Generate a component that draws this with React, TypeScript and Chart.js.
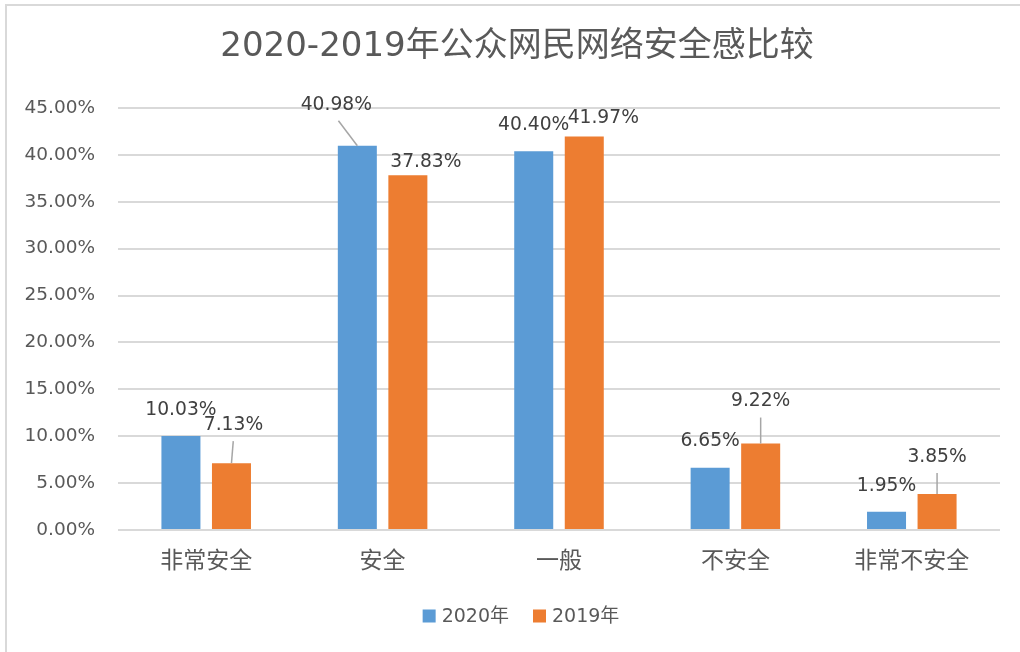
import React, { useEffect, useRef } from "react";
import { Chart, registerables } from "chart.js";

Chart.register(...registerables);

const chartTitle = "2020-2019年公众网民网络安全感比较";
const categories = ["非常安全", "安全", "一般", "不安全", "非常不安全"];
const seriesNames = ["2020年", "2019年"];
const values2020 = [10.03, 40.98, 40.4, 6.65, 1.95];
const values2019 = [7.13, 37.83, 41.97, 9.22, 3.85];
const yMin = 0;
const yMax = 45;
const yStep = 5;

// label placement tweaks (px) relative to the default "above the bar" position
const labelShift2020 = [[0, 0], [-21, -15], [0, 0], [0, 0], [0, 0]];
const labelShift2019 = [[2, -12], [18, 13], [19, 8], [0, -16], [0, -11]];
const leader2020 = [false, true, false, false, false];
const leader2019 = [true, false, false, true, true];

const BLUE = "#5B9BD5";
const ORANGE = "#ED7D31";
const TEXT = "#595959";
const LABEL = "#404040";
const LATIN = '"DejaVu Sans", "Noto Sans CJK SC", sans-serif';
const CJK = '"Noto Sans CJK SC", "DejaVu Sans", sans-serif';

const fmt = (v: number) => v.toFixed(2) + "%";

const decorPlugin = {
  id: "decor",
  afterDatasetsDraw(chart: any) {
    const ctx = chart.ctx;
    const shifts = [labelShift2020, labelShift2019];
    const leaders = [leader2020, leader2019];
    ctx.save();
    chart.data.datasets.forEach((ds: any, di: number) => {
      const meta = chart.getDatasetMeta(di);
      meta.data.forEach((el: any, i: number) => {
        const [dx, dy] = shifts[di][i];
        const lx = el.x + dx;
        const ly = el.y - 26 + dy;
        if (leaders[di][i]) {
          ctx.strokeStyle = "#A6A6A6";
          ctx.lineWidth = 1.5;
          ctx.beginPath();
          ctx.moveTo(lx + (el.x - lx) * 0.1, ly + 16);
          ctx.lineTo(el.x, el.y);
          ctx.stroke();
        }
        ctx.fillStyle = LABEL;
        ctx.font = "18.7px " + LATIN;
        ctx.textAlign = "center";
        ctx.textBaseline = "middle";
        ctx.fillText(fmt(ds.data[i]), lx, ly);
      });
    });
    ctx.restore();
  },
  afterDraw(chart: any) {
    const ctx = chart.ctx;
    ctx.save();
    // title
    ctx.fillStyle = TEXT;
    ctx.font = "34px " + LATIN;
    ctx.textAlign = "center";
    ctx.textBaseline = "middle";
    ctx.fillText(chartTitle, 517, 47);
    // legend
    ctx.font = "19px " + LATIN;
    const box = 13;
    const gap = 6;
    const itemGap = 24;
    const colors = [BLUE, ORANGE];
    const widths = seriesNames.map((n) => box + gap + ctx.measureText(n).width);
    const total = widths.reduce((a, b) => a + b, 0) + itemGap * (widths.length - 1);
    let x = 521 - total / 2;
    const cy = 616;
    ctx.textAlign = "left";
    seriesNames.forEach((n, i) => {
      ctx.fillStyle = colors[i];
      ctx.fillRect(x, cy - box / 2, box, box);
      ctx.fillStyle = TEXT;
      ctx.fillText(n, x + box + gap, cy + 1);
      x += widths[i] + itemGap;
    });
    ctx.restore();
  },
};

export default function App() {
  const ref = useRef<HTMLCanvasElement | null>(null);

  useEffect(() => {
    if (!ref.current) return;
    const chart = new Chart(ref.current, {
      type: "bar",
      data: {
        labels: categories,
        datasets: [
          {
            label: seriesNames[0],
            data: values2020,
            backgroundColor: BLUE,
            barPercentage: 0.772,
            categoryPercentage: 0.573,
          },
          {
            label: seriesNames[1],
            data: values2019,
            backgroundColor: ORANGE,
            barPercentage: 0.772,
            categoryPercentage: 0.573,
          },
        ],
      },
      options: {
        responsive: false,
        animation: false,
        devicePixelRatio: 1,
        layout: { padding: { top: 108, right: 20, bottom: 62, left: 0 } },
        plugins: {
          legend: { display: false },
          title: { display: false },
          tooltip: { enabled: false },
        },
        scales: {
          x: {
            grid: { display: false },
            border: { display: false },
            ticks: {
              color: TEXT,
              font: { family: CJK, size: 23 },
              padding: 7,
              maxRotation: 0,
            },
            afterFit(scale: any) {
              scale.height = 60;
            },
          },
          y: {
            min: yMin,
            max: yMax,
            border: { display: false },
            grid: { color: "#D9D9D9", lineWidth: 2, drawTicks: false },
            ticks: {
              stepSize: yStep,
              color: TEXT,
              font: { family: LATIN, size: 18.5 },
              padding: 23,
              callback: (v: any) => fmt(Number(v)),
            },
            afterFit(scale: any) {
              scale.width = 118;
            },
          },
        },
      },
      plugins: [decorPlugin],
    });
    return () => chart.destroy();
  }, []);

  return (
    <div
      style={{
        position: "fixed",
        left: 0,
        top: 0,
        width: 1020,
        height: 652,
        background: "#fff",
        overflow: "hidden",
      }}
    >
      <div
        style={{
          position: "absolute",
          left: 5,
          top: 4,
          width: 1100,
          height: 700,
          border: "2px solid #D9D9D9",
        }}
      />
      <canvas
        ref={ref}
        width={1020}
        height={652}
        style={{ position: "absolute", left: 0, top: 0 }}
      />
    </div>
  );
}
